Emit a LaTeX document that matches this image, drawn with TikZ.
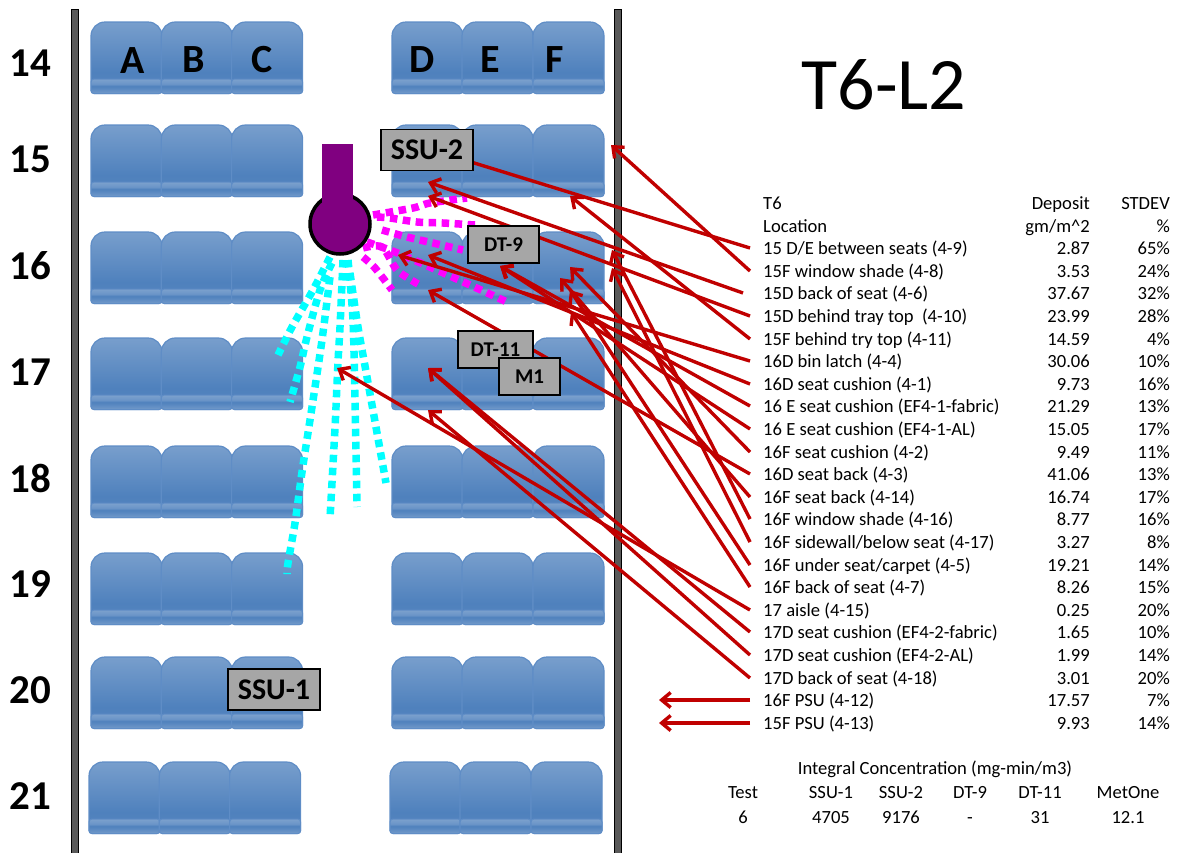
\documentclass[tikz,border=0pt]{standalone}
\usepackage{fontspec}
\setmainfont{Carlito}
\usetikzlibrary{arrows.meta, positioning, calc}
\definecolor{seatlt}{HTML}{95B3D7}
\definecolor{seatdk}{HTML}{4F81BD}
\definecolor{seatln}{HTML}{5F8DC6}
\definecolor{wallgr}{HTML}{595959}
\definecolor{boxgr}{HTML}{A6A6A6}
\definecolor{arrred}{HTML}{C00000}
\definecolor{wandpl}{HTML}{800080}
\definecolor{spraymg}{HTML}{FF00FF}
\definecolor{spraycy}{HTML}{00FFFF}
\pgfdeclareverticalshading{seatshade}{100bp}{color(0bp)=(seatdk!75!seatlt); color(40bp)=(seatdk); color(100bp)=(seatlt)}
\pgfdeclareverticalshading{stripshade}{100bp}{color(0bp)=(seatlt); color(50bp)=(seatdk); color(58bp)=(seatdk!60!seatlt); color(100bp)=(seatlt)}

% One row of six seats
\newcommand{\seatrow}[2]{
  \foreach \sx in {0,70.3,140.6,301,371,442}
    \pic at ({#1+\sx},#2) {seat};
}
% One line of the deposit table
\newcommand{\deprow}[5]{
  \node[rowlbl] (#1) at (750,#2) {#3};
  \node[numlbl] (#1d) at (1090,#2) {#4};
  \node[numlbl] (#1s) at (1170,#2) {#5};
}

\begin{document}
\begin{tikzpicture}[
  x=1pt, y=-1pt,
  arr/.style={-{Straight Barb[length=9pt, width=15pt]}, line width=3.4pt, arrred},
  wall/.style={draw=black, line width=1pt, fill=wallgr},
  spray/.style={draw=#1, line width=7.5pt, dash pattern=on 7.5pt off 5.5pt},
  inst/.style={draw=black, line width=1.5pt, fill=boxgr, inner sep=0pt, font=\fontsize{#1}{#1}\selectfont\bfseries},
  rownum/.style={font=\fontsize{41}{41}\selectfont\bfseries},
  collbl/.style={font=\fontsize{40}{40}\selectfont\bfseries},
  rowlbl/.style={anchor=west, inner sep=0pt, inner xsep=13pt, text height=12pt, text depth=0pt, font=\fontsize{18.6}{20}\selectfont},
  numlbl/.style={anchor=east, inner sep=0pt, text height=12pt, text depth=0pt, font=\fontsize{18.6}{20}\selectfont},
  conlbl/.style={inner sep=0pt, text height=12pt, text depth=0pt, font=\fontsize{18.6}{20}\selectfont},
  seat/.pic={
    \path[draw=seatln, line width=1.2pt, shading=seatshade, rounded corners=14pt]
      (0,40) -- (0,0) -- (71,0) -- (71,40) [rounded corners=3pt] -- (71,71.5) -- (0,71.5) -- cycle;
    \path[draw=seatln, line width=1pt, shading=stripshade, rounded corners=3pt]
      (0,57) -- (71,57) -- (71,71.5) -- (0,71.5) -- cycle;
  },
]
\useasboundingbox (0,0) rectangle (1177,852);

% Side walls
\path[wall] (71.5,9) rectangle (78,853);
\path[wall] (614.5,9) rectangle (621,853);

% Seats
\seatrow{91}{22}
\seatrow{91}{125}
\seatrow{91}{232}
\seatrow{91}{338}
\seatrow{91}{446}
\seatrow{91}{553}
\seatrow{91}{657}
\seatrow{89}{762}

% Row numbers
\node[rownum] (n14) at (30,63) {14};
\node[rownum] (n15) at (30,159) {15};
\node[rownum] (n16) at (30,266) {16};
\node[rownum] (n17) at (30,372) {17};
\node[rownum] (n18) at (30,478) {18};
\node[rownum] (n19) at (30,584) {19};
\node[rownum] (n20) at (30,690) {20};
\node[rownum] (n21) at (30,796) {21};

% Seat letters
\node[collbl] (colA) at (133,61) {A};
\node[collbl] (colB) at (194,60) {B};
\node[collbl] (colC) at (262,60) {C};
\node[collbl] (colD) at (422,60) {D};
\node[collbl] (colE) at (490,60) {E};
\node[collbl] (colF) at (555,60) {F};

% Title
\node[font=\fontsize{74}{74}\selectfont] (title) at (884,85) {T6-L2};

% Magenta spray
\draw[spray=spraymg] plot[smooth] coordinates {(373,215) (413,208) (430,203) (467,198)};
\draw[spray=spraymg] plot[smooth] coordinates {(377,217) (390,218) (417,222) (443,223) (475,225)};
\draw[spray=spraymg] plot[smooth] coordinates {(382,230) (407,237) (433,243) (463,250)};
\draw[spray=spraymg] plot[smooth] coordinates {(367,242) (395,252) (430,267) (470,285) (507,302)};
\draw[spray=spraymg] plot[smooth] coordinates {(363,248) (382,247) (397,270) (418,284)};
\draw[spray=spraymg] plot[smooth] coordinates {(363,257) (375,268) (392,290)};

% Cyan spray
\draw[spray=spraycy] plot[smooth] coordinates {(330,257) (313,290) (292,327) (278,355)};
\draw[spray=spraycy] plot[smooth] coordinates {(332,263) (320,290) (307,337) (300,367) (290,402)};
\draw[spray=spraycy] plot[smooth] coordinates {(330,277) (322,340) (312,407) (302,472) (295,523) (288,563) (287,574)};
\draw[spray=spraycy] plot[smooth] coordinates {(343,260) (340,327) (338,362) (335,428) (330,518)};
\draw[spray=spraycy] plot[smooth] coordinates {(348,260) (353,320) (355,403) (357,507)};
\draw[spray=spraycy] plot[smooth] coordinates {(350,273) (358,327) (367,377) (386,483)};

% Sprayer
\node[circle, draw=black, line width=3.5pt, fill=wandpl, minimum size=60pt, inner sep=0pt] (nozzle) at (340,224) {};
\node[fill=wandpl, minimum width=31pt, minimum height=62pt, inner sep=0pt] (wand) at (337.5,175) {};

% Table header
\node[rowlbl] (hT6) at (750,203) {T6};
\node[rowlbl] (hLoc) at (750,226) {Location};
\node[numlbl] (hDep) at (1090,203) {Deposit};
\node[numlbl] (hUnit) at (1090,226) {gm/m\textasciicircum 2};
\node[numlbl] (hStd) at (1170,203) {STDEV};
\node[numlbl] (hPct) at (1170,226) {\%};

% Table rows
\deprow{r1}{248}{15 D/E between seats (4-9)}{2.87}{65\%}
\deprow{r2}{271}{15F window shade (4-8)}{3.53}{24\%}
\deprow{r3}{293}{15D back of seat (4-6)}{37.67}{32\%}
\deprow{r4}{316}{15D behind tray top~ (4-10)}{23.99}{28\%}
\deprow{r5}{339}{15F behind try top (4-11)}{14.59}{4\%}
\deprow{r6}{361}{16D bin latch (4-4)}{30.06}{10\%}
\deprow{r7}{384}{16D seat cushion (4-1)}{9.73}{16\%}
\deprow{r8}{406}{16 E seat cushion (EF4-1-fabric)}{21.29}{13\%}
\deprow{r9}{429}{16 E seat cushion (EF4-1-AL)}{15.05}{17\%}
\deprow{r10}{452}{16F seat cushion (4-2)}{9.49}{11\%}
\deprow{r11}{474}{16D seat back (4-3)}{41.06}{13\%}
\deprow{r12}{497}{16F seat back (4-14)}{16.74}{17\%}
\deprow{r13}{519}{16F window shade (4-16)}{8.77}{16\%}
\deprow{r14}{542}{16F sidewall/below seat (4-17)}{3.27}{8\%}
\deprow{r15}{565}{16F under seat/carpet (4-5)}{19.21}{14\%}
\deprow{r16}{587}{16F back of seat (4-7)}{8.26}{15\%}
\deprow{r17}{610}{17 aisle (4-15)}{0.25}{20\%}
\deprow{r18}{632}{17D seat cushion (EF4-2-fabric)}{1.65}{10\%}
\deprow{r19}{655}{17D seat cushion (EF4-2-AL)}{1.99}{14\%}
\deprow{r20}{678}{17D back of seat (4-18)}{3.01}{20\%}
\deprow{r21}{700}{16F PSU (4-12)}{17.57}{7\%}
\deprow{r22}{723}{15F PSU (4-13)}{9.93}{14\%}

% Concentration table
\node[conlbl] (icTitle) at (935,768) {Integral Concentration (mg-min/m3)};
\node[conlbl] (icTest) at (743,792) {Test};
\node[conlbl] (icS1) at (831,792) {SSU-1};
\node[conlbl] (icS2) at (901,792) {SSU-2};
\node[conlbl] (icD9) at (970,792) {DT-9};
\node[conlbl] (icD11) at (1040,792) {DT-11};
\node[conlbl] (icMet) at (1128,792) {MetOne};
\node[conlbl] (vTest) at (743,817) {6};
\node[conlbl] (vS1) at (831,817) {4705};
\node[conlbl] (vS2) at (901,817) {9176};
\node[conlbl] (vD9) at (970,817) {-};
\node[conlbl] (vD11) at (1040,817) {31};
\node[conlbl] (vMet) at (1128,817) {12.1};

% Arrow targets
\coordinate (t1) at (458,158);
\coordinate (t2) at (611,145);
\coordinate (t3) at (428,182);
\coordinate (t4) at (428,196);
\coordinate (t5) at (570,196);
\coordinate (t6) at (398,255);
\coordinate (t7) at (428,255);
\coordinate (t8) at (500,266);
\coordinate (t10) at (570,267);
\coordinate (t11) at (428,290);
\coordinate (t12) at (560,278);
\coordinate (t13) at (612,250);
\coordinate (t14) at (612,268);
\coordinate (t15) at (570,290);
\coordinate (t16) at (571,312);
\coordinate (t17) at (337,368);
\coordinate (t18) at (428,368);
\coordinate (t20) at (428,410);
\coordinate (t21) at (659,700);
\coordinate (t22) at (659,723);

% Arrows
\draw[arr] (r1.west) -- (t1);
\draw[arr] (r2.west) -- (t2);
\draw[arr] ([xshift=-7pt]r3.west) -- (t3);
\draw[arr] (r4.west) -- (t4);
\draw[arr] (r5.west) -- (t5);
\draw[arr] (r6.west) -- (t6);
\draw[arr] (r7.west) -- (t7);
\draw[arr] (r8.west) -- (t8);
\draw[arr] (r9.west) -- (t8);
\draw[arr] (r10.west) -- (t10);
\draw[arr] (r11.west) -- (t11);
\draw[arr] (r12.west) -- (t12);
\draw[arr] (r13.west) -- (t13);
\draw[arr] (r14.west) -- (t14);
\draw[arr] (r15.west) -- (t15);
\draw[arr] (r16.west) -- (t16);
\draw[arr] (r17.west) -- (t17);
\draw[arr] (r18.west) -- (t18);
\draw[arr] (r19.west) -- (t18);
\draw[arr] (r20.west) -- (t20);
\draw[arr] (r21.west) -- (t21);
\draw[arr] (r22.west) -- (t22);

% Instruments
\node[inst=30, minimum width=92pt, minimum height=41pt] (ssu2) at (427,150) {SSU-2};
\node[inst=21, minimum width=71pt, minimum height=37pt] (dt9) at (503.5,244.5) {DT-9};
\node[inst=21, minimum width=75pt, minimum height=37pt] (dt11) at (495.5,349.5) {DT-11};
\node[inst=21, minimum width=61pt, minimum height=37pt] (m1) at (529.5,376.5) {M1};
\node[inst=30, minimum width=92pt, minimum height=41pt] (ssu1) at (274,689.5) {SSU-1};

\end{tikzpicture}
\end{document}
